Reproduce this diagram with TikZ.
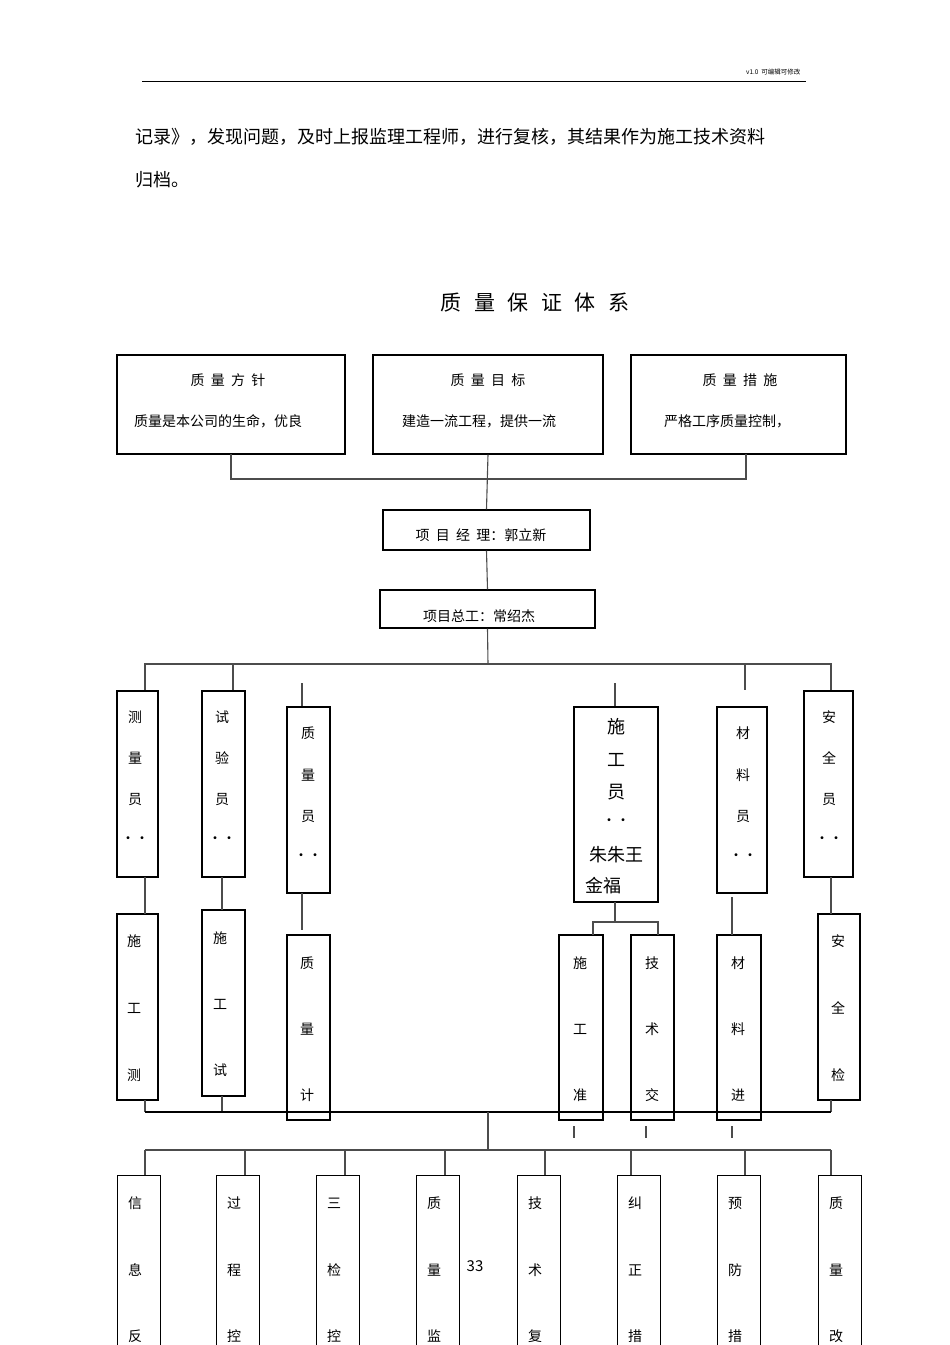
\documentclass[tikz,border=0pt]{standalone}
\usepackage{fontspec}
\setmainfont{Noto Sans CJK SC}
\begin{document}
\begin{tikzpicture}[x=1pt,y=-1pt,
  box/.style={draw=black,line width=1.3pt,inner sep=0,minimum width=#1},
  ln/.style={draw=black!70,line width=1.1pt},
  t/.style={font=\fontsize{14}{16}\selectfont,inner sep=0},
  tb/.style={font=\fontsize{18}{20}\selectfont,inner sep=0}]
\useasboundingbox (0,0) rectangle (950,1345);
\clip (0,0) rectangle (950,1345);
\newcommand\bx[5]{\node[box=#4-#2,minimum height=#5-#3] (#1) at ({(#2+#4)/2},{(#3+#5)/2}) {};}
% header
\draw[line width=1pt] (142,81) coordinate (h1) -- (806,81) coordinate (h2);
\node[font=\fontsize{6.5}{7}\selectfont,anchor=east] (ver) at (804,72) {v1.0\ \ 可编辑可修改};
\node[font=\fontsize{18}{20}\selectfont,anchor=west] (p1) at (132,137) {记录》，发现问题，及时上报监理工程师，进行复核，其结果作为施工技术资料};
\node[font=\fontsize{18}{20}\selectfont,anchor=west] (p2) at (132,180) {归档。};
\node[font=\fontsize{21}{24}\selectfont] (title) at (535,303) {质\hspace{0.6em}量\hspace{0.6em}保\hspace{0.6em}证\hspace{0.6em}体\hspace{0.6em}系};
% top boxes
\bx{a}{117}{355}{345}{454}\bx{b}{373}{355}{603}{454}\bx{c}{631}{355}{846}{454}
\node[t] at (228,380) {质\ \ 量\ \ 方\ \ 针};
\node[t] at (218,421) {质量是本公司的生命，优良};
\node[t] at (488,380) {质\ \ 量\ \ 目\ \ 标};
\node[t] at (479,421) {建造一流工程，提供一流};
\node[t] at (740,380) {质\ \ 量\ \ 措\ \ 施};
\node[t] at (727,421) {严格工序质量控制，};
\bx{pm}{383}{510}{590}{550}
\node[t] at (481,535) {项\ \ 目\ \ 经\ \ 理：郭立新};
\bx{ce}{380}{590}{595}{628}
\node[t] at (479,616) {项目总工：常绍杰};
\draw[ln] (231,454) -- (231,479) -- (746,479) -- (746,454);
\draw[ln] (b.south) -- (pm.north);
\draw[ln] (pm.south) -- (ce.north);
\draw[ln] (ce.south) -- (488,664);
\draw[ln] (145,691) -- (145,664) -- (831,664) -- (831,691);
\draw[ln] (233,664) -- (233,691);
\draw[ln] (745,664) -- (745,690);
\draw[ln] (302,683) -- (302,707);
\draw[ln] (615,683) -- (615,707);
% row1
\bx{r1}{117}{691}{158}{877}\bx{r2}{202}{691}{245}{877}\bx{r3}{287}{707}{330}{893}
\bx{r4}{574}{707}{658}{902}\bx{r5}{717}{707}{767}{893}\bx{r6}{804}{691}{853}{877}
\foreach \c/\y in {测/717,量/758,员/800,··/840} \node[t] at (135,\y) {\c};
\foreach \c/\y in {试/717,验/758,员/800,··/840} \node[t] at (222,\y) {\c};
\foreach \c/\y in {质/733,量/775,员/817,··/857} \node[t] at (308,\y) {\c};
\foreach \c/\y in {材/733,料/775,员/817,··/857} \node[t] at (743,\y) {\c};
\foreach \c/\y in {安/717,全/758,员/800,··/840} \node[t] at (829,\y) {\c};
\foreach \c/\y in {施/727,工/760,员/792} \node[tb] at (616,\y) {\c};
\node[t] at (616,822) {··};
\node[tb] at (616,855) {朱朱王};
\node[tb,anchor=west] at (585,886) {金福};
% row2
\bx{s1}{117}{914}{158}{1100}\bx{s2}{202}{910}{245}{1096}\bx{s3}{287}{935}{330}{1120}
\bx{s4}{559}{935}{603}{1120}\bx{s5}{631}{935}{674}{1120}\bx{s6}{717}{935}{761}{1120}
\bx{s7}{818}{914}{860}{1100}
\foreach \c/\y in {施/941,工/1008,测/1075} \node[t] at (134,\y) {\c};
\foreach \c/\y in {施/938,工/1004,试/1070} \node[t] at (220,\y) {\c};
\foreach \c/\y in {质/963,量/1029,计/1095} \node[t] at (307,\y) {\c};
\foreach \c/\y in {施/963,工/1029,准/1095} \node[t] at (580,\y) {\c};
\foreach \c/\y in {技/963,术/1029,交/1095} \node[t] at (652,\y) {\c};
\foreach \c/\y in {材/963,料/1029,进/1095} \node[t] at (738,\y) {\c};
\foreach \c/\y in {安/941,全/1008,检/1075} \node[t] at (838,\y) {\c};
\draw[ln] (145,877) -- (145,914);
\draw[ln] (222,877) -- (222,910);
\draw[ln] (302,893) -- (302,930);
\draw[ln] (615,902) -- (615,922);
\draw[ln] (593,935) -- (593,922) -- (658,922) -- (658,935);
\draw[ln] (732,897) -- (732,935);
\draw[ln] (831,877) -- (831,914);
\draw[ln] (145,1100) -- (145,1112);
\draw[ln] (222,1096) -- (222,1112);
\draw[ln] (831,1100) -- (831,1112);
\draw[line width=2pt] (145,1112) -- (831,1112);
\foreach \x in {574,646,732} \draw[ln] (\x,1126) -- (\x,1138);
\draw[ln] (488,1112) -- (488,1150);
\draw[ln] (145,1150) -- (831,1150);
% bottom row
\foreach \x/\a/\b/\c [count=\i] in {117/信/息/反,216/过/程/控,316/三/检/控,416/质/量/监,517/技/术/复,617/纠/正/措,717/预/防/措,818/质/量/改}{
  \node[box=43,minimum height=200,anchor=north west] (u\i) at (\x,1175) {};
  \node[t] at (\x+18,1203) {\a};
  \node[t] at (\x+18,1270) {\b};
  \node[t] at (\x+18,1336) {\c};
}
\foreach \x in {145,245,345,445,545,631,745,831} \draw[ln] (\x,1150) -- (\x,1175);
\node[font=\fontsize{15}{16}\selectfont] (pg) at (475,1266) {33};
\end{tikzpicture}
\end{document}
